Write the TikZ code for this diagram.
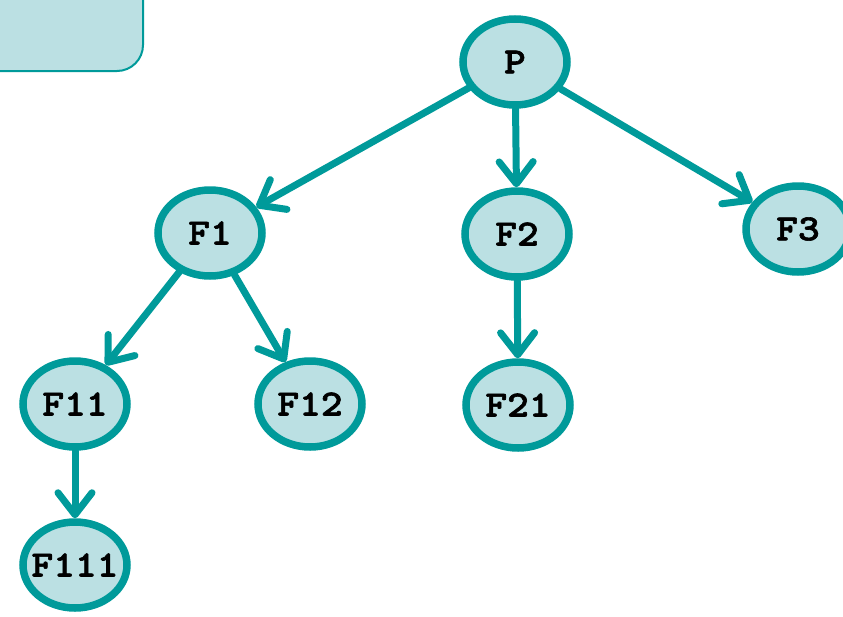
\documentclass[tikz,border=0pt]{standalone}
\usepackage{fontspec}
\newfontfamily\codefont{lmmonolt10-bold}[Extension=.otf, FakeStretch=1.12, FakeBold=1.6]
\usetikzlibrary{arrows.meta,shapes.geometric}
\definecolor{tealline}{HTML}{009A9A}
\definecolor{tealfill}{HTML}{BBE0E3}
\newcommand{\proclabel}[1]{\makebox[0pt]{#1}}
\tikzset{
  procnode/.style={ellipse, draw=tealline, fill=tealfill, line width=7.5pt,
    minimum width=104pt, minimum height=86pt, inner sep=0pt,
    font=\codefont\fontsize{37}{37}\selectfont},
  edge/.style={draw=tealline, line width=7pt, line cap=round,
    -{Straight Barb[length=22pt, width=34pt, line cap=round, line join=round]}},
  panel/.style={draw=tealline, fill=tealfill, line width=2pt, rounded corners=26pt}
}
\begin{document}
\begin{tikzpicture}[x=1pt, y=-1pt]
  \useasboundingbox (0,0) rectangle (843,616);
  % corner panel, partly outside the page
  \path[panel] (-40,-40) rectangle (143,71);
  % process tree
  \node[procnode] (P)    at (515,62)  {\proclabel{P}};
  \node[procnode] (F1)   at (210,233) {\proclabel{F1}};
  \node[procnode] (F2)   at (517,234) {\proclabel{F2}};
  \node[procnode] (F3)   at (798,229) {\proclabel{F3}};
  \node[procnode] (F11)  at (75,404)  {\proclabel{F11}};
  \node[procnode] (F12)  at (310,404) {\proclabel{F12}};
  \node[procnode] (F21)  at (518,405) {\proclabel{F21}};
  \node[procnode] (F111) at (75,565)  {\proclabel{F111}};
  \draw[edge] (P) -- (F1);
  \draw[edge] (P) -- (F2);
  \draw[edge] (P) -- (F3);
  \draw[edge] (F1) -- (F11);
  \draw[edge] (F1) -- (F12);
  \draw[edge] (F2) -- (F21);
  \draw[edge] (F11) -- (F111);
\end{tikzpicture}
\end{document}
